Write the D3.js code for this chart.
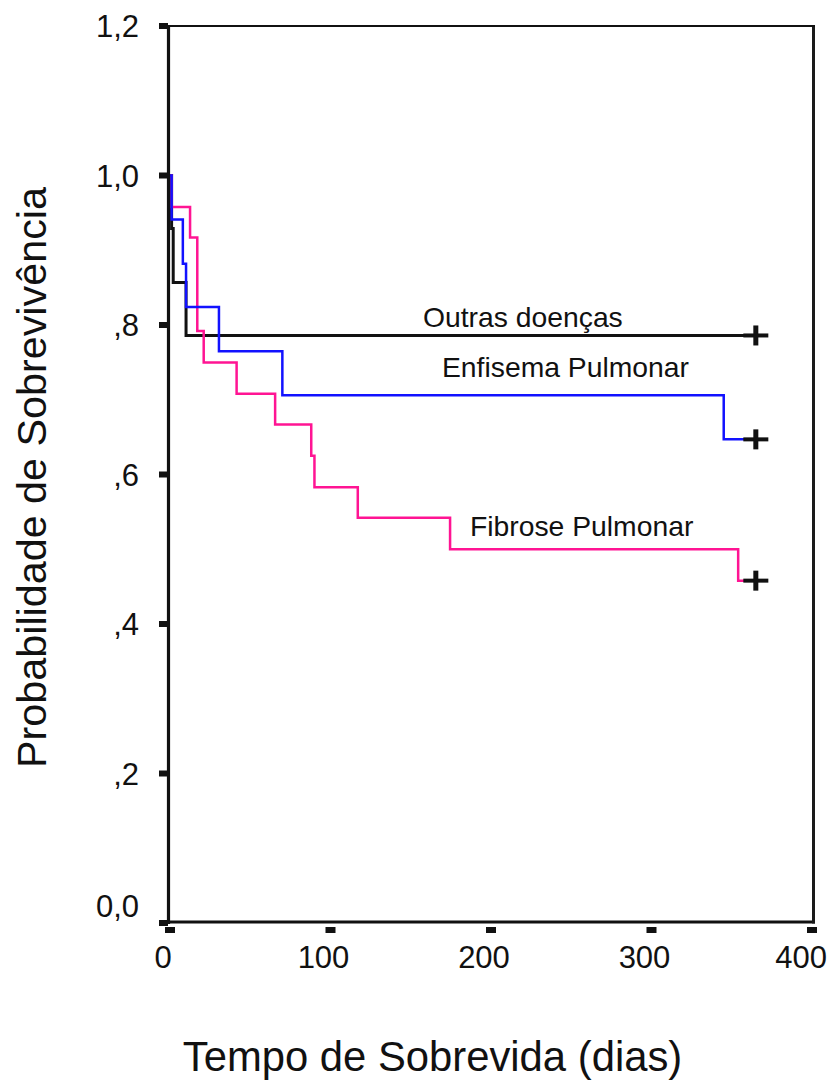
<!DOCTYPE html>
<html>
<head>
<meta charset="utf-8">
<script src="https://cdn.jsdelivr.net/npm/d3@7/dist/d3.min.js"></script>
<style>
  html, body { margin: 0; padding: 0; background: #fff; }
  svg { display: block; font-family: "Liberation Sans", Arial, sans-serif; }
</style>
</head>
<body>
<svg id="chart" width="835" height="1083"></svg>
<script>
// Kaplan–Meier survival curves by diagnosis group (days of follow-up)
const groupNames = ["Outras doenças", "Enfisema Pulmonar", "Fibrose Pulmonar"];
const groupColors = ["#111111", "#1212ff", "#ff1493"];

// event times (days) and survival probability right after each event
const outrasTimes = [1, 2, 10];
const outrasSurv  = [0.929, 0.857, 0.786];
const enfisemaTimes = [1, 8, 10, 30.5, 70, 345];
const enfisemaSurv  = [0.941, 0.882, 0.824, 0.765, 0.706, 0.647];
const fibroseTimes = [1, 12.5, 17, 21, 41.5, 65.5, 88, 90, 117, 174.5, 354];
const fibroseSurv  = [0.958, 0.917, 0.792, 0.750, 0.708, 0.667, 0.625, 0.583, 0.542, 0.500, 0.458];
// censored observation at end of follow-up
const censorTimes = [365, 365, 365];

const xTicks = [0, 100, 200, 300, 400];
const yTicks = [0, 0.2, 0.4, 0.6, 0.8, 1.0, 1.2];
const yTickLabels = ["0,0", ",2", ",4", ",6", ",8", "1,0", "1,2"];

const xTitle = "Tempo de Sobrevida (dias)";
const yTitle = "Probabilidade de Sobrevivência";

const svg = d3.select("#chart");
const x = d3.scaleLinear().domain([0, 400]).range([170, 812]);
const y = d3.scaleLinear().domain([0, 1.2]).range([923, 26]);

// step curves
const series = [
  { t: outrasTimes, s: outrasSurv },
  { t: enfisemaTimes, s: enfisemaSurv },
  { t: fibroseTimes, s: fibroseSurv }
].map((d, i) => {
  const pts = [[0, 1]];
  d.t.forEach((t, j) => pts.push([t, d.s[j]]));
  pts.push([censorTimes[i], d.s[d.s.length - 1]]);
  return { name: groupNames[i], color: groupColors[i], pts, end: pts[pts.length - 1] };
});

const line = d3.line()
  .x(d => x(d[0]))
  .y(d => y(d[1]))
  .curve(d3.curveStepAfter);

const drawOrder = [0, 2, 1];
svg.append("g").selectAll("path")
  .data(drawOrder.map(i => series[i]))
  .join("path")
  .attr("d", d => line(d.pts))
  .attr("fill", "none")
  .attr("stroke", d => d.color)
  .attr("stroke-width", d => d.name === groupNames[0] ? 3 : 2.5)
  .attr("stroke-linejoin", "miter")
  .attr("stroke-linecap", "square");

// censor marks (+)
const censor = svg.append("g").attr("fill", "#111");
series.forEach(d => {
  const cx = x(d.end[0]), cy = y(d.end[1]);
  censor.append("rect").attr("x", cx - 12.5).attr("y", cy - 2).attr("width", 25).attr("height", 4);
  censor.append("rect").attr("x", cx - 2.5).attr("y", cy - 10).attr("width", 5).attr("height", 20);
});

// frame
const frame = svg.append("g").attr("stroke", "#111").attr("fill", "none");
frame.append("line").attr("x1", x(0) - 1.5).attr("x2", x(0) - 1.5).attr("y1", y(1.2) - 1).attr("y2", y(0) + 1).attr("stroke-width", 3.2);
frame.append("line").attr("x1", x(0) - 3).attr("x2", x(400) + 3).attr("y1", y(0) - 1).attr("y2", y(0) - 1).attr("stroke-width", 3);
frame.append("line").attr("x1", x(400) + 1.5).attr("x2", x(400) + 1.5).attr("y1", y(1.2) - 1).attr("y2", y(0) + 0.5).attr("stroke-width", 3).attr("stroke", "#1a1a1a");
frame.append("line").attr("x1", x(0) - 3).attr("x2", x(400) + 3).attr("y1", y(1.2)).attr("y2", y(1.2)).attr("stroke-width", 2.2);

// tick marks
svg.append("g").attr("fill", "#111").selectAll("rect")
  .data(yTicks).join("rect")
  .attr("x", 159).attr("y", d => y(d) - 3).attr("width", 9).attr("height", 6);
svg.append("g").attr("fill", "#111").selectAll("rect")
  .data(xTicks).join("rect")
  .attr("x", d => x(d) - 5).attr("y", y(0) + 4).attr("width", 10).attr("height", 6);

// tick labels
svg.append("g").attr("font-size", 31).attr("fill", "#111").attr("text-anchor", "end")
  .selectAll("text").data(yTicks).join("text")
  .attr("x", 139)
  .attr("y", d => Math.min(y(d) + 11, 917))
  .text((d, i) => yTickLabels[i]);

const xl = svg.append("g").attr("font-size", 31).attr("fill", "#111").attr("text-anchor", "middle")
  .selectAll("text").data(xTicks).join("text")
  .attr("x", d => x(d) - 7)
  .attr("y", 968)
  .text(d => d);
xl.each(function () {
  const bb = this.getBBox();
  if (bb.x + bb.width > 827) d3.select(this).attr("x", +d3.select(this).attr("x") - (bb.x + bb.width - 827));
});

// curve labels
const labelPos = [[423, 327], [442, 377], [470, 536]];
svg.append("g").attr("font-size", 28.3).attr("fill", "#111")
  .selectAll("text").data(groupNames).join("text")
  .attr("x", (d, i) => labelPos[i][0])
  .attr("y", (d, i) => labelPos[i][1])
  .text(d => d);

// axis titles
svg.append("text")
  .attr("x", 432.5).attr("y", 1070.5)
  .attr("text-anchor", "middle").attr("font-size", 41.8).attr("fill", "#111")
  .text(xTitle);
svg.append("text")
  .attr("transform", "translate(46,477.5) rotate(-90)")
  .attr("text-anchor", "middle").attr("font-size", 41.3).attr("fill", "#111")
  .text(yTitle);
</script>
</body>
</html>
